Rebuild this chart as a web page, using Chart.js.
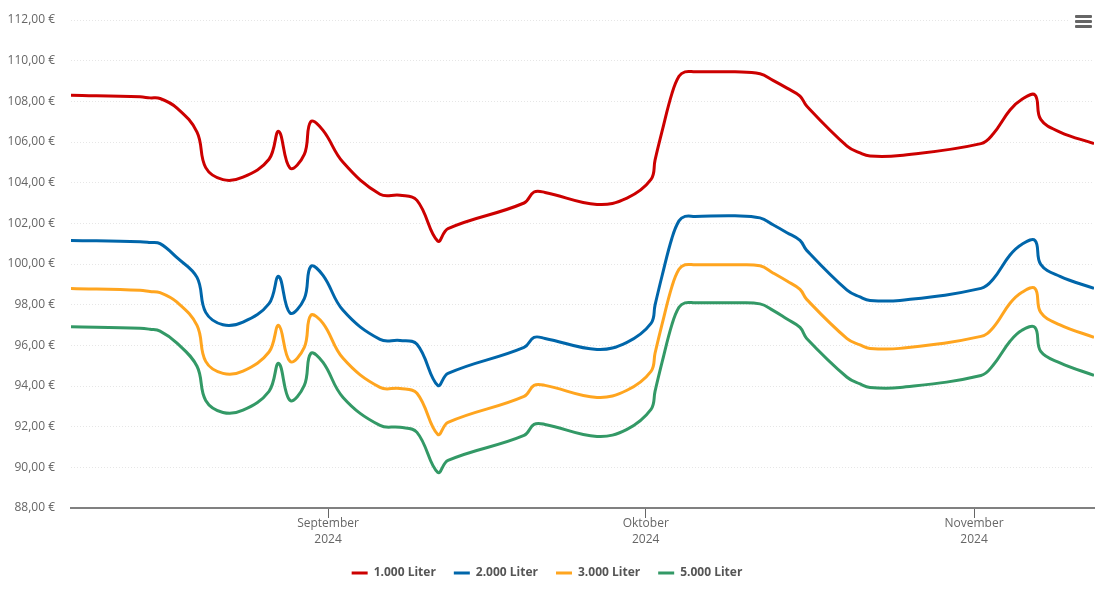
<!DOCTYPE html>
<html>
<head>
<meta charset="utf-8">
<title>Heizölpreise</title>
<script src="https://cdn.jsdelivr.net/npm/chart.js@4"></script>
<style>
  html, body { margin: 0; padding: 0; background: #fff; }
  #wrap { position: relative; width: 1105px; height: 602px; }
  /* menu icon in the top right corner */
  #menu { position: absolute; left: 1070px; top: 12px; width: 24px; height: 18px; background: #fff; }
  #menu span { position: absolute; left: 5px; width: 17px; height: 3px; background: #666; border-radius: 1px; }
</style>
</head>
<body>
<div id="wrap">
  <canvas id="chart1" width="1105" height="602"></canvas>
  <div id="menu"><span style="top:3px"></span><span style="top:8px"></span><span style="top:13px"></span></div>
</div>
<script>
// days counted from 1 August 2024
const days = [6.73,13.25,14.19,15.14,16.74,18.63,19.45,21.08,22.97,25.43,26.34,27.41,28.76,29.37,30.53,32.42,35.91,37.8,39.4,41.36,42.33,49.51,50.45,51.49,56.4,59.23,61.5,61.88,62.54,63.48,64.14,64.71,65.66,69.43,71.79,73.02,74.34,75.57,76.2,80.01,81.24,82.18,85.01,92.66,93.8,95.4,96.53,97.76,98.3,100.12,103.33];

const liter1000 = [108.30,108.22,108.17,108.14,107.67,106.49,104.74,104.15,104.27,105.15,106.52,104.72,105.39,107.00,106.57,105.00,103.43,103.38,103.13,101.13,101.74,103.00,103.54,103.52,102.93,103.24,104.16,105.11,106.52,108.39,109.23,109.45,109.45,109.45,109.36,109.03,108.65,108.26,107.77,105.80,105.46,105.31,105.34,105.92,106.39,107.57,108.10,108.31,107.11,106.49,105.92];
const liter2000 = [101.16,101.10,101.06,101.00,100.31,99.34,97.62,97.01,97.14,98.05,99.39,97.59,98.30,99.88,99.44,97.72,96.29,96.24,96.05,94.03,94.62,95.90,96.39,96.34,95.80,96.15,97.08,97.98,99.41,101.28,102.12,102.34,102.34,102.37,102.27,101.93,101.54,101.16,100.67,98.71,98.38,98.21,98.21,98.80,99.25,100.44,100.97,101.16,99.98,99.39,98.80];
const liter3000 = [98.80,98.71,98.65,98.59,98.12,96.98,95.21,94.62,94.73,95.67,96.98,95.21,95.90,97.47,97.08,95.36,93.93,93.88,93.64,91.62,92.21,93.49,94.03,94.03,93.44,93.79,94.72,95.61,97.03,98.90,99.74,99.96,99.96,99.96,99.91,99.56,99.16,98.75,98.26,96.33,96.02,95.85,95.85,96.44,96.87,98.07,98.61,98.80,97.62,97.01,96.39];
const liter5000 = [96.91,96.84,96.79,96.70,96.11,94.97,93.29,92.70,92.81,93.74,95.11,93.29,94.03,95.60,95.16,93.44,92.06,91.97,91.72,89.75,90.34,91.57,92.11,92.11,91.52,91.87,92.85,93.74,95.16,97.03,97.87,98.09,98.09,98.09,98.04,97.72,97.29,96.88,96.34,94.43,94.10,93.93,93.93,94.52,95.02,96.20,96.74,96.88,95.70,95.14,94.52];

const monthTicks = [31, 61, 92];
const monthLabels = [['September', '2024'], ['Oktober', '2024'], ['November', '2024']];

const fontFamily = '"Open Sans", sans-serif';

function punkte(werte) {
  return werte.map((w, i) => ({ x: days[i], y: w }));
}

function linie(name, werte, farbe) {
  return {
    label: name,
    data: punkte(werte),
    borderColor: farbe,
    backgroundColor: farbe,
    borderWidth: 3,
    pointRadius: 0,
    tension: 0.4,
    fill: false
  };
}

const ctx1 = document.getElementById('chart1').getContext('2d');
new Chart(ctx1, {
  type: 'line',
  data: {
    datasets: [
      linie('1.000 Liter', liter1000, '#cc0000'),
      linie('2.000 Liter', liter2000, '#0066aa'),
      linie('3.000 Liter', liter3000, '#ffa51f'),
      linie('5.000 Liter', liter5000, '#339966')
    ]
  },
  options: {
    responsive: false,
    animation: false,
    layout: { padding: { left: 0, right: 11, top: 20, bottom: 13 } },
    plugins: {
      tooltip: { enabled: false },
      legend: {
        display: true,
        position: 'bottom',
        labels: {
          usePointStyle: true,
          pointStyle: 'line',
          pointStyleWidth: 16,
          padding: 18,
          color: '#555555',
          font: { family: fontFamily, size: 12, weight: 'bold' }
        }
      }
    },
    scales: {
      x: {
        type: 'linear',
        min: days[0],
        max: days[days.length - 1],
        afterBuildTicks: axis => { axis.ticks = monthTicks.map(v => ({ value: v })); },
        afterFit: axis => { axis.height = 41; },
        border: { color: '#808080', width: 2 },
        grid: { drawOnChartArea: false, drawTicks: true, tickLength: 10, color: '#666666' },
        ticks: {
          autoSkip: false,
          maxRotation: 0,
          padding: -3,
          color: '#666666',
          font: { family: fontFamily, size: 12, lineHeight: 1.35 },
          callback: v => monthLabels[monthTicks.indexOf(v)]
        }
      },
      y: {
        min: 88,
        max: 112,
        afterFit: axis => { axis.width = 71; },
        border: { display: false, dash: [1, 2] },
        // tickLength only pushes the labels off the axis, the marks stay invisible
        grid: { color: '#e6e6e6', lineWidth: 1, drawTicks: true, tickLength: 16, tickColor: 'rgba(0,0,0,0)' },
        ticks: {
          stepSize: 2,
          padding: 0,
          color: '#666666',
          font: { family: fontFamily, size: 12 },
          callback: v => v.toFixed(2).replace('.', ',') + ' €'
        }
      }
    }
  }
});
</script>
</body>
</html>
